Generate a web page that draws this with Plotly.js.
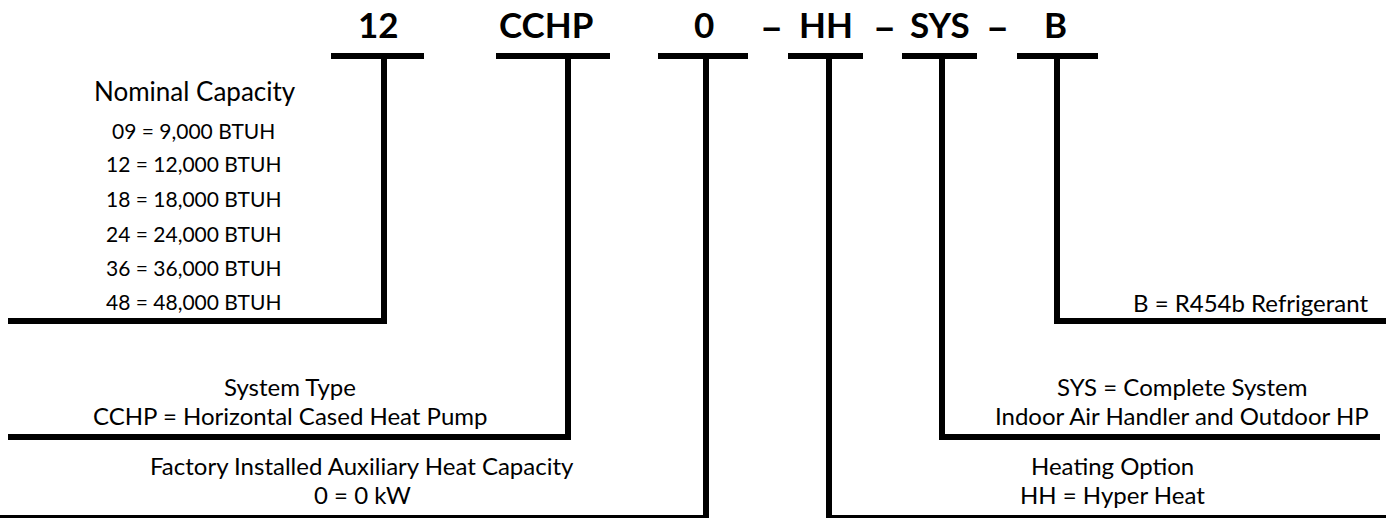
<!DOCTYPE html>
<html>
<head>
<meta charset="utf-8">
<script src="https://cdn.plot.ly/plotly-3.0.1.min.js"></script>
<style>
html,body{margin:0;padding:0;background:#fff;}
#chart{width:1386px;height:518px;}
</style>
</head>
<body>
<div id="chart"></div>
<script>
// ---- content (data) ----
var codes = ['12', 'CCHP', '0', 'HH', 'SYS', 'B'];
var separators = ['\u2013', '\u2013', '\u2013'];
var groupTitles = ['Nominal Capacity', 'System Type', 'Factory Installed Auxiliary Heat Capacity',
                   'Heating Option', 'SYS = Complete System', ''];
var capacityOptions = ['09 = 9,000 BTUH', '12 = 12,000 BTUH', '18 = 18,000 BTUH',
                       '24 = 24,000 BTUH', '36 = 36,000 BTUH', '48 = 48,000 BTUH'];
var groupDetails = [null, 'CCHP = Horizontal Cased Heat Pump', '0 = 0 kW',
                    'HH = Hyper Heat', 'Indoor Air Handler and Outdoor HP', 'B = R454b Refrigerant'];

// ---- layout geometry (positions, not data) ----
var codeCenterX = [378, 546, 704, 826, 940, 1055];
var sepX = [771, 884, 997];
var labelY = 24;
var barY = 56;
var barX0 = [331, 496, 658, 788, 902, 1017];
var barX1 = [424, 610, 748, 863, 977, 1098];
var stemX = [384, 568, 706, 829, 942, 1057];
var footY = [321, 437, 518, 518, 437, 321];
var footEndX = [8, 8, 0, 1386, 1380, 1386];
var titleY = [91, 386, 465, 465, 386, null];
var detailY = [null, 415, 494, 494, 415, 302];
var textCenterX = [195, 290, 362, 1112, 1182, 1250];
var optionY = [130, 163, 198, 233, 267, 301];

var LW = 6;
var shapes = [];
var annotations = [];
var FONT = 'Lato, "Open Sans", sans-serif';

for (var i = 0; i < codes.length; i++) {
  shapes.push({type:'line', xref:'x', yref:'y', x0:barX0[i], x1:barX1[i], y0:barY, y1:barY,
               line:{color:'#000', width:LW}});
  shapes.push({type:'path', xref:'x', yref:'y',
               path:'M' + stemX[i] + ',' + (barY) + ' L' + stemX[i] + ',' + footY[i] + ' L' + footEndX[i] + ',' + footY[i],
               line:{color:'#000', width:LW}, fillcolor:'rgba(0,0,0,0)'});
  annotations.push({x:codeCenterX[i], y:labelY, xref:'x', yref:'y', text:'<b>' + codes[i] + '</b>',
                    showarrow:false, xanchor:'center', yanchor:'middle',
                    font:{family:FONT, size:35, color:'#000'}});
  if (groupTitles[i] && titleY[i] !== null) {
    annotations.push({x:textCenterX[i], y:titleY[i], xref:'x', yref:'y', text:groupTitles[i],
                      showarrow:false, xanchor:'center', yanchor:'middle',
                      font:{family:FONT, size:i === 0 ? 26 : 24, color:'#000'}});
  }
  if (groupDetails[i] && detailY[i] !== null) {
    annotations.push({x:textCenterX[i], y:detailY[i], xref:'x', yref:'y', text:groupDetails[i],
                      showarrow:false, xanchor:'center', yanchor:'middle',
                      font:{family:FONT, size:24, color:'#000'}});
  }
}
for (var s = 0; s < separators.length; s++) {
  annotations.push({x:sepX[s], y:labelY + 2, xref:'x', yref:'y', text:'<b>' + separators[s] + '</b>',
                    showarrow:false, xanchor:'center', yanchor:'middle',
                    font:{family:FONT, size:40, color:'#000'}});
}
for (var k = 0; k < capacityOptions.length; k++) {
  annotations.push({x:193, y:optionY[k], xref:'x', yref:'y', text:capacityOptions[k],
                    showarrow:false, xanchor:'center', yanchor:'middle',
                    font:{family:FONT, size:21, color:'#000'}});
}

var layout = {
  width:1386, height:518,
  margin:{l:0, r:0, t:0, b:0, pad:0},
  paper_bgcolor:'#fff', plot_bgcolor:'#fff',
  showlegend:false,
  xaxis:{range:[0,1386], visible:false, fixedrange:true},
  yaxis:{range:[518,0], visible:false, fixedrange:true},
  shapes:shapes,
  annotations:annotations
};

Plotly.newPlot('chart', [{x:[], y:[], type:'scatter', mode:'lines', hoverinfo:'skip'}], layout,
               {staticPlot:true, displayModeBar:false});
</script>
</body>
</html>
